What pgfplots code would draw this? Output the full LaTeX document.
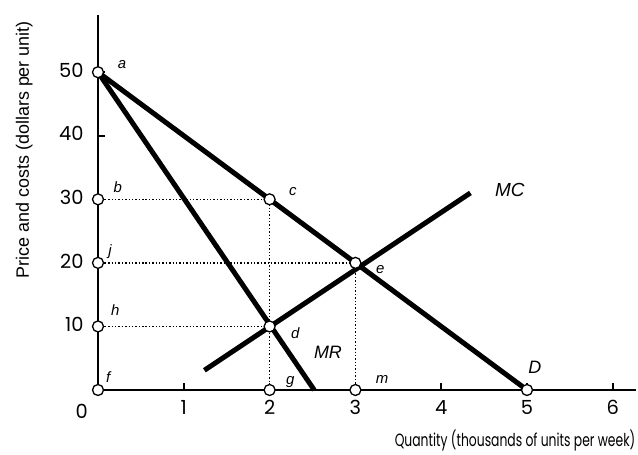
\documentclass[border=0pt]{standalone}
\usepackage{pgfplots}
\pgfplotsset{compat=1.18}
\usepackage{fontspec}
\setmainfont{Liberation Sans}
\newfontfamily\poppins{Poppins}
\begin{document}
\begin{tikzpicture}
\begin{axis}[
  name=ax,
  scale only axis,
  width=538bp, height=375bp,
  xmin=0, xmax=6.27, ymin=0, ymax=59,
  axis lines=left,
  axis line style={-, line width=1.8bp},
  clip=false,
  xtick={1,2,3,4,5,6},
  ytick={10,20,30,40,50},
  tick align=inside,
  major tick length=7bp,
  tick style={line width=1.5bp, black},
  xticklabel style={font=\poppins\fontsize{19.5}{19.5}\selectfont, yshift=-7bp},
  yticklabel style={font=\poppins\fontsize{19.5}{19.5}\selectfont, xshift=-11bp, yshift=2bp},
  /pgf/number format/assume math mode=true,
]
% dotted guides
\addplot[black, dotted, line width=1.4bp] coordinates {(0,30) (2,30) (2,0)};
\addplot[black, dotted, line width=1.4bp] coordinates {(0,20) (3,20) (3,0)};
\addplot[black, dotted, line width=1.4bp] coordinates {(0,10) (2,10)};
% curves
\addplot[black, line width=5bp] coordinates {(0,50) (5,0)};
\addplot[black, line width=5bp] coordinates {(0,50) (2.52,0)};
\addplot[black, line width=5bp] coordinates {(1.24,3.1) (4.34,31)};
% points
\addplot[only marks, mark=*, mark size=5.5bp, mark options={fill=white, draw=black, line width=1.3bp}]
  coordinates {(0,50) (0,30) (0,20) (0,10) (0,0) (2,30) (2,10) (2,0) (3,20) (3,0) (5,0)};
% point labels
\begin{scope}[every node/.style={font=\itshape\fontsize{15}{15}\selectfont}]
\node at (axis cs:0.28,51.2) {a};
\node at (axis cs:0.23,31.9) {b};
\node at (axis cs:2.27,31.3) {c};
\node at (axis cs:0.14,21.7) {j};
\node at (axis cs:0.20,12.6) {h};
\node at (axis cs:0.12,2.0) {f};
\node at (axis cs:2.30,9.0) {d};
\node at (axis cs:2.24,1.3) {g};
\node at (axis cs:3.29,18.9) {e};
\node at (axis cs:3.31,1.6) {m};
\node[font=\itshape\fontsize{18}{18}\selectfont] at (axis cs:5.09,3.5) {D};
\node[font=\itshape\fontsize{18}{18}\selectfont] at (axis cs:2.68,6.0) {MR};
\node[font=\itshape\fontsize{19}{19}\selectfont] at (axis cs:4.80,31.5) {MC};
\end{scope}
\node[font=\poppins\fontsize{19.5}{19.5}\selectfont] at (axis cs:-0.19,-3.3) {0};
\node[font=\poppins\fontsize{15.5}{15.5}\selectfont, xscale=0.8, yscale=1.15] at (axis cs:4.86,-7.9) {Quantity (thousands of units per week)};
\node[rotate=90, font=\fontsize{18}{18}\selectfont] at (axis cs:-0.86,37.8) {Price and costs (dollars per unit)};
\end{axis}
\pgfresetboundingbox
\useasboundingbox ([xshift=-98bp,yshift=-65bp]ax.south west) rectangle ([xshift=2bp,yshift=15bp]ax.north east);
\end{tikzpicture}
\end{document}
